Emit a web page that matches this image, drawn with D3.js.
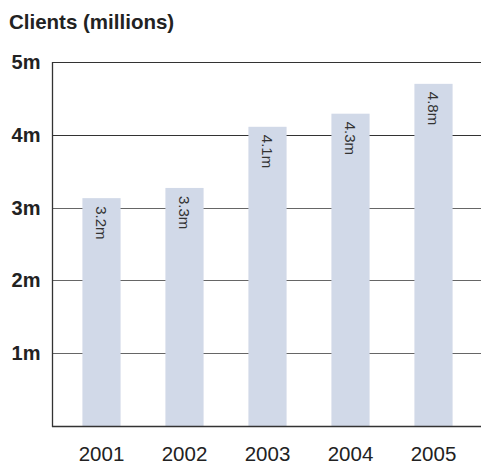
<!DOCTYPE html>
<html>
<head>
<meta charset="utf-8">
<script src="https://cdn.jsdelivr.net/npm/d3@7"></script>
<style>
	body { margin: 0; background: #fff; }
	text { font-family: "Liberation Sans", Arial, sans-serif; }
</style>
</head>
<body>
<script>
var years = ["2001", "2002", "2003", "2004", "2005"];
var clients = [3.13, 3.27, 4.11, 4.29, 4.70];
var barLabels = ["3.2m", "3.3m", "4.1m", "4.3m", "4.8m"];
var yTicks = [1, 2, 3, 4, 5];
var yTickLabels = ["1m", "2m", "3m", "4m", "5m"];

var width = 481, height = 467;

var svg = d3.select("body").append("svg")
	.attr("width", width)
	.attr("height", height)
;

var x = d3.scaleBand()
	.domain(years)
	.range([60, 475])
	.paddingInner(0.54)
	.paddingOuter(0.27)
;

var y = d3.scaleLinear()
	.domain([0, 5])
	.range([426, 62])
;

// title
svg.append("text")
	.attr("x", 9)
	.attr("y", 29)
	.attr("font-size", 20.5)
	.attr("font-weight", "bold")
	.attr("fill", "#222")
	.text("Clients (millions)")
;

// gridlines
svg.selectAll("line.grid")
	.data(yTicks)
	.enter().append("line")
		.attr("class", "grid")
		.attr("x1", 52)
		.attr("x2", width)
		.attr("y1", function(d) { return Math.round(y(d)) + 0.5; })
		.attr("y2", function(d) { return Math.round(y(d)) + 0.5; })
		.style("stroke", function(d) { return d >= 4 ? "#333" : "#666"; })
		.style("stroke-width", 1.2)
;

// bars
svg.selectAll("rect.bar")
	.data(clients)
	.enter().append("rect")
		.attr("class", "bar")
		.attr("x", function(d, i) { return x(years[i]); })
		.attr("width", x.bandwidth())
		.attr("y", function(d) { return y(d); })
		.attr("height", function(d) { return y(0) - y(d); })
		.style("fill", "#d1d9e8")
;

// bar value labels, rotated
svg.selectAll("text.val")
	.data(clients)
	.enter().append("text")
		.attr("class", "val")
		.attr("transform", function(d, i) {
			return "translate(" + (x(years[i]) + x.bandwidth() / 2 - 6) + "," + (y(d) + 8) + ")rotate(90)";
		})
		.attr("font-size", 15)
		.attr("fill", "#333")
		.text(function(d, i) { return barLabels[i]; })
;

// axes lines
svg.append("line")
	.attr("x1", 52.5).attr("x2", 52.5)
	.attr("y1", 62).attr("y2", 427)
	.style("stroke", "#333")
	.style("stroke-width", 1.3)
;
svg.append("line")
	.attr("x1", 52).attr("x2", width)
	.attr("y1", 426.5).attr("y2", 426.5)
	.style("stroke", "#333")
	.style("stroke-width", 1.3)
;

// y tick labels
svg.selectAll("text.ytick")
	.data(yTicks)
	.enter().append("text")
		.attr("class", "ytick")
		.attr("x", 40.5)
		.attr("y", function(d) { return y(d) + 7; })
		.attr("text-anchor", "end")
		.attr("font-size", 20)
		.attr("font-weight", "bold")
		.attr("fill", "#222")
		.text(function(d, i) { return yTickLabels[i]; })
;

// x labels
svg.selectAll("text.xtick")
	.data(years)
	.enter().append("text")
		.attr("class", "xtick")
		.attr("x", function(d) { return x(d) + x.bandwidth() / 2; })
		.attr("y", 460.5)
		.attr("text-anchor", "middle")
		.attr("font-size", 20.5)
		.attr("fill", "#222")
		.text(function(d) { return d; })
;
</script>
</body>
</html>
